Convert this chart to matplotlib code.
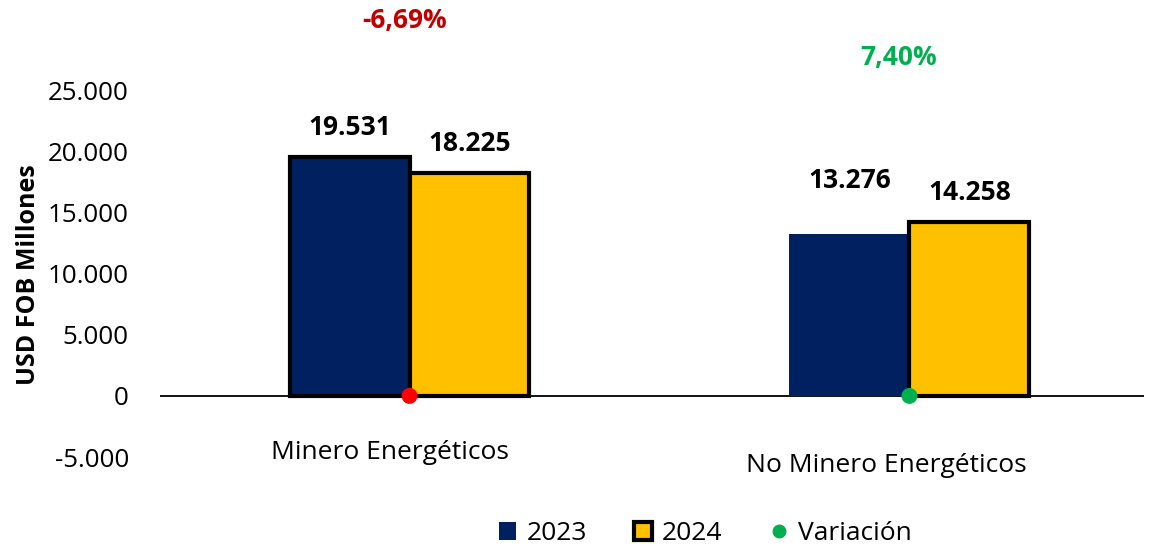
import matplotlib
matplotlib.use("Agg")
import matplotlib.pyplot as plt
import numpy as np
from matplotlib.lines import Line2D
from matplotlib.patches import Patch

plt.rcParams['font.family'] = ['Open Sans', 'DejaVu Sans']

categories = ["Minero Energéticos", "No Minero Energéticos"]
years = ["2023", "2024"]
values_2023 = [19531, 13276]
values_2024 = [18225, 14258]
variation = [-6.69, 7.40]
yticks = [-5000, 0, 5000, 10000, 15000, 20000, 25000]

navy = "#002060"
yellow = "#FFC000"
red_txt = "#C00000"
green = "#00B050"

def fmt_thousands(v):
    return f"{v:,.0f}".replace(",", ".")

fig = plt.figure(figsize=(11.56, 5.5), dpi=100)
ax = fig.add_axes([0.138, 0.169, 0.852, 0.667])

x = np.arange(len(categories))
w = 0.24

edges_2023 = ["black", "none"]
ax.axhline(0, color="black", lw=1.3, zorder=1)
ax.bar(x - w / 2, values_2023, width=w, color=navy,
       edgecolor=edges_2023, linewidth=[3, 0], zorder=2)
ax.bar(x + w / 2, values_2024, width=w, color=yellow,
       edgecolor="black", linewidth=3, zorder=2)

dot_colors = ["#FF0000", green]
ax.scatter(x, [0, 0], s=110, c=dot_colors, zorder=4, clip_on=False)

# value labels
offs_2023 = [21, 38]
offs_2024 = [21, 21]
for i in range(len(categories)):
    ax.annotate(fmt_thousands(values_2023[i]), (x[i] - w / 2, values_2023[i]),
                xytext=(0, offs_2023[i]), textcoords="offset points",
                ha="center", va="center", fontsize=19, fontweight="bold")
    ax.annotate(fmt_thousands(values_2024[i]), (x[i] + w / 2, values_2024[i]),
                xytext=(0, offs_2024[i]), textcoords="offset points",
                ha="center", va="center", fontsize=19, fontweight="bold")

# variation labels
var_colors = [red_txt, green]
var_y = [30700, 27700]
var_dx = [-0.01, -0.022]
for i in range(len(categories)):
    s = f"{variation[i]:.2f}".replace(".", ",") + "%"
    ax.text(x[i] + var_dx[i], var_y[i], s, ha="center", va="center",
            fontsize=19, fontweight="bold", color=var_colors[i], clip_on=False)

# category labels
cat_y = [-4600, -5700]
cat_dx = [-0.04, -0.046]
for i, c in enumerate(categories):
    ax.text(x[i] + cat_dx[i], cat_y[i], c,
            ha="center", va="center", fontsize=19, clip_on=False)

ax.set_xlim(-0.5, 1.47)
ax.set_ylim(-5000, 25000)
ax.set_yticks(yticks)
ax.set_yticklabels([fmt_thousands(t) for t in yticks], fontsize=18.7)
ax.tick_params(axis="y", length=0, pad=22)
ax.set_xticks([])
for sp in ax.spines.values():
    sp.set_visible(False)
ax.set_ylabel("USD FOB Millones", fontsize=18, fontweight="bold")
ax.yaxis.set_label_coords(-0.12, 0.497)

handles = [
    Patch(facecolor=navy, edgecolor="none", label=years[0]),
    Patch(facecolor=yellow, edgecolor="black", linewidth=3, label=years[1]),
    Line2D([0], [0], marker="o", color="none", markerfacecolor=green,
           markeredgecolor=green, markersize=9, label="Variación"),
]
fig.legend(handles=handles, loc="center", bbox_to_anchor=(0.61, 0.03),
           ncol=3, frameon=False, fontsize=19, handlelength=0.65,
           handleheight=0.65, handletextpad=0.4, columnspacing=1.8)

fig.savefig("out.png", dpi=100)
